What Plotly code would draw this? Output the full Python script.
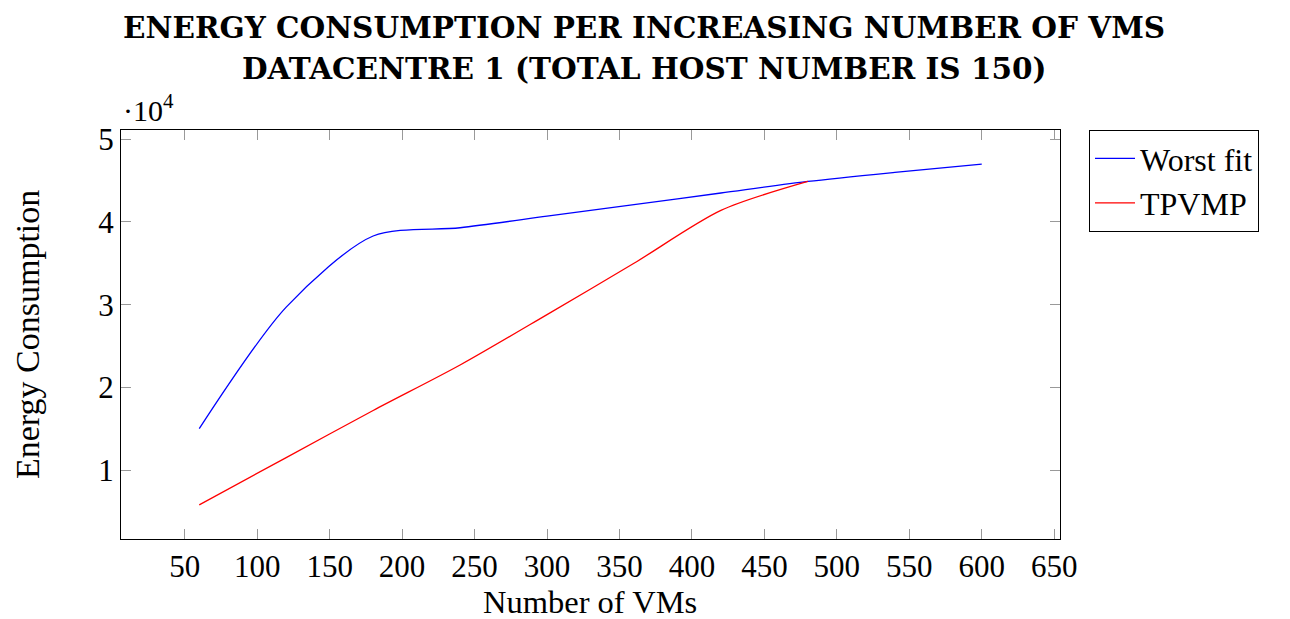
import plotly.graph_objects as go

# Data
vms_worst = [60, 120, 180, 240, 300, 360, 420, 480, 540, 600]
energy_worst = [15000, 29700, 38300, 39300, 40700, 42100, 43500, 44900, 46000, 47000]

vms_tpvmp = [60, 120, 180, 240, 300, 360, 420, 480]
energy_tpvmp = [5790, 11500, 17200, 22700, 28800, 35000, 41400, 44900]

x_ticks = [50, 100, 150, 200, 250, 300, 350, 400, 450, 500, 550, 600, 650]
y_ticks = [10000, 20000, 30000, 40000, 50000]
y_tick_text = ["1", "2", "3", "4", "5"]

title_lines = ["ENERGY CONSUMPTION PER INCREASING NUMBER OF VMS",
               "DATACENTRE 1 (TOTAL HOST NUMBER IS 150)"]

SERIF = "Liberation Serif, DejaVu Serif, serif"

fig = go.Figure()
fig.add_trace(go.Scatter(x=vms_worst, y=energy_worst, mode="lines", name="Worst fit",
                         line=dict(color="#0000ff", width=1.3, shape="spline", smoothing=0.8)))
fig.add_trace(go.Scatter(x=vms_tpvmp, y=energy_tpvmp, mode="lines", name="TPVMP",
                         line=dict(color="#ff0000", width=1.3, shape="spline", smoothing=0.8)))

L, R, T, B = 121, 230, 130, 80
W, H = 1290, 619
ph = H - T - B
pw = W - L - R

def py(Y):
    return (H - B - Y) / ph

def px(X):
    return (X - L) / pw

annotations = [
    dict(text="<b>" + title_lines[0] + "</b>", x=px(644), xref="paper", y=py(27), yref="paper",
         showarrow=False, xanchor="center", yanchor="middle",
         font=dict(family="DejaVu Serif", size=29.5, color="black")),
    dict(text="<b>" + title_lines[1] + "</b>", x=px(644), xref="paper", y=py(68), yref="paper",
         showarrow=False, xanchor="center", yanchor="middle",
         font=dict(family="DejaVu Serif", size=29.5, color="black")),
    dict(text="·10<sup>4</sup>", x=0, xref="paper", y=1, yref="paper", yshift=1,
         showarrow=False, xanchor="left", yanchor="bottom",
         font=dict(family=SERIF, size=30, color="black")),
    dict(text="Number of VMs", x=px(590), xref="paper", y=py(602), yref="paper",
         showarrow=False, xanchor="center", yanchor="middle",
         font=dict(family=SERIF, size=32.5, color="black")),
    dict(text="Energy Consumption", x=0, xref="paper", xshift=-94, y=py(335), yref="paper",
         showarrow=False, xanchor="center", yanchor="middle", textangle=-90,
         font=dict(family=SERIF, size=34, color="black")),
]

fig.update_layout(
    width=W, height=H,
    margin=dict(l=L, r=R, t=T, b=B, pad=0),
    paper_bgcolor="white", plot_bgcolor="white",
    showlegend=True,
    legend=dict(x=px(1089), y=1, xanchor="left", yanchor="top",
                bordercolor="black", borderwidth=1, bgcolor="white",
                font=dict(family=SERIF, size=32, color="black"),
                tracegroupgap=0, itemwidth=40),
    annotations=annotations,
    font=dict(family=SERIF, size=31, color="black"),
)
fig.update_xaxes(range=[6, 654], tickvals=x_ticks, ticks="inside", ticklen=10,
                 tickcolor="#999999", tickwidth=1, showline=True, linecolor="black",
                 linewidth=1, mirror="ticks", showgrid=False, zeroline=False,
                 tickfont=dict(family=SERIF, size=31, color="black"))
fig.update_yaxes(range=[1660, 51120], tickvals=y_ticks, ticktext=y_tick_text,
                 ticks="inside", ticklen=10, tickcolor="#999999", tickwidth=1,
                 showline=True, linecolor="black", linewidth=1, mirror="ticks",
                 showgrid=False, zeroline=False,
                 tickfont=dict(family=SERIF, size=31, color="black"))

fig.write_html("out.html")
